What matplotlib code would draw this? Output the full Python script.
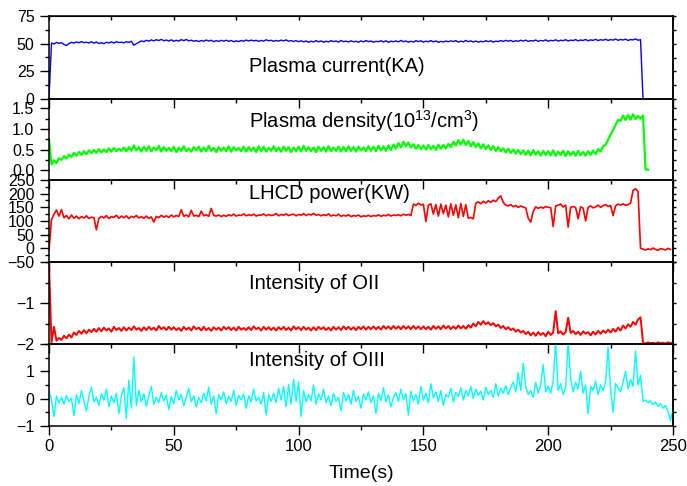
import numpy as np
import matplotlib
matplotlib.use("Agg")
import matplotlib.pyplot as plt
from matplotlib.ticker import MultipleLocator, FixedLocator, FormatStrFormatter

plt.rcParams['font.family'] = ['Liberation Sans', 'DejaVu Sans']
plt.rcParams['mathtext.fontset'] = 'custom'
plt.rcParams['mathtext.rm'] = 'Liberation Sans'
plt.rcParams['mathtext.default'] = 'regular'

nan = np.nan
time_s = np.arange(0, 251)  # one sample per second

plasma_current = [
    0.0, 50.6, 49.7, 51.1, 50.3, 50.9, 49.4, 48.3, 50.1, 51.2,
    50.5, 51.6, 50.8, 51.9, 50.9, 51.3, 50.6, 51.8, 50.4, 51.5,
    50.1, 51.0, 49.9, 51.3, 50.6, 51.7, 50.5, 51.9, 51.0, 51.4,
    50.7, 51.8, 51.1, 52.2, 48.6, 50.0, 51.2, 52.5, 51.8, 53.0,
    52.3, 53.4, 52.5, 53.6, 52.8, 53.9, 52.6, 53.3, 52.4, 53.5,
    52.1, 53.1, 52.3, 53.7, 52.7, 53.8, 52.5, 53.2, 52.2, 52.9,
    51.9, 52.8, 52.2, 53.3, 52.4, 53.1, 51.8, 52.8, 52.0, 53.0,
    52.3, 53.1, 52.1, 52.9, 51.7, 52.6, 51.9, 52.8, 52.2, 53.3,
    52.4, 53.2, 52.5, 53.0, 52.1, 52.9, 52.3, 53.5, 52.6, 53.1,
    52.1, 52.9, 52.3, 53.2, 52.5, 53.4, 52.2, 52.8, 52.0, 52.7,
    51.8, 52.6, 51.6, 52.4, 51.2, 52.3, 51.5, 52.8, 51.7, 52.5,
    51.3, 52.2, 51.6, 52.7, 51.9, 52.4, 51.4, 52.9, 51.8, 52.3,
    51.5, 52.6, 51.7, 52.2, 51.3, 52.5, 51.6, 52.8, 51.9, 52.4,
    51.4, 52.1, 51.8, 52.7, 51.5, 52.6, 51.2, 52.3, 51.7, 52.5,
    51.6, 52.9, 51.8, 52.4, 51.3, 52.2, 51.5, 52.7, 51.9, 52.6,
    51.4, 52.3, 51.7, 52.8, 51.6, 52.5, 51.2, 52.1, 51.5, 52.4,
    51.7, 52.6, 51.9, 52.8, 51.4, 52.3, 51.6, 52.9, 51.8, 52.5,
    51.5, 52.4, 51.3, 52.2, 51.6, 52.7, 51.8, 52.6, 51.4, 52.3,
    51.9, 52.8, 52.0, 53.0, 52.2, 52.9, 51.8, 52.7, 52.1, 53.1,
    52.3, 53.2, 52.0, 52.8, 52.4, 53.3, 52.1, 52.9, 52.5, 53.4,
    52.2, 53.0, 52.6, 53.5, 52.3, 53.1, 52.7, 53.6, 52.4, 53.2,
    52.8, 53.7, 52.5, 53.3, 52.9, 53.8, 52.6, 53.4, 53.0, 53.9,
    52.8, 53.6, 53.1, 54.0, 52.9, 53.7, 53.2, 54.2, 53.0, 53.8,
    53.3, 54.1, 52.9, 53.7, 53.4, 54.3, 53.1, 53.6,
    0.0,
]

plasma_density = [
    0.76, 0.14, 0.24, 0.17, 0.29, 0.25, 0.34, 0.28, 0.38, 0.32,
    0.42, 0.35, 0.44, 0.37, 0.46, 0.39, 0.48, 0.41, 0.49, 0.42,
    0.51, 0.43, 0.50, 0.44, 0.53, 0.45, 0.54, 0.46, 0.52, 0.47,
    0.55, 0.46, 0.56, 0.47, 0.60, 0.48, 0.56, 0.45, 0.57, 0.47,
    0.58, 0.46, 0.55, 0.48, 0.59, 0.45, 0.56, 0.47, 0.54, 0.46,
    0.57, 0.44, 0.55, 0.47, 0.58, 0.46, 0.53, 0.45, 0.56, 0.48,
    0.57, 0.45, 0.55, 0.46, 0.59, 0.47, 0.54, 0.44, 0.56, 0.47,
    0.55, 0.46, 0.58, 0.45, 0.56, 0.48, 0.54, 0.46, 0.57, 0.45,
    0.56, 0.47, 0.55, 0.44, 0.58, 0.46, 0.57, 0.45, 0.54, 0.47,
    0.58, 0.46, 0.55, 0.45, 0.57, 0.47, 0.56, 0.44, 0.55, 0.46,
    0.57, 0.45, 0.59, 0.47, 0.56, 0.46, 0.55, 0.44, 0.57, 0.47,
    0.56, 0.45, 0.58, 0.46, 0.55, 0.47, 0.57, 0.45, 0.56, 0.46,
    0.58, 0.47, 0.56, 0.45, 0.57, 0.48, 0.55, 0.46, 0.58, 0.47,
    0.57, 0.46, 0.59, 0.48, 0.58, 0.47, 0.60, 0.49, 0.62, 0.52,
    0.66, 0.55, 0.69, 0.58, 0.67, 0.55, 0.63, 0.52, 0.61, 0.51,
    0.60, 0.50, 0.61, 0.51, 0.59, 0.49, 0.62, 0.52, 0.61, 0.53,
    0.64, 0.56, 0.69, 0.60, 0.73, 0.62, 0.74, 0.61, 0.71, 0.58,
    0.68, 0.56, 0.65, 0.53, 0.63, 0.51, 0.60, 0.49, 0.58, 0.47,
    0.56, 0.46, 0.53, 0.43, 0.52, 0.42, 0.50, 0.40, 0.49, 0.39,
    0.48, 0.37, 0.47, 0.36, 0.49, 0.38, 0.46, 0.35, 0.47, 0.37,
    0.46, 0.36, 0.48, 0.35, 0.45, 0.37, 0.47, 0.34, 0.46, 0.36,
    0.45, 0.35, 0.47, 0.36, 0.44, 0.35, 0.46, 0.37, 0.48, 0.39,
    0.51, 0.45, 0.58, 0.62, 0.74, 0.86, 0.98, 1.10, 1.22, 1.20,
    1.33, 1.22, 1.34, 1.23, 1.36, 1.24, 1.32, 1.25, 1.33, 0.02,
    0.01,
]

lhcd_power = [
    -8, 105, 125, 140, 118, 142, 112, 120, 108, 122,
    110, 118, 108, 116, 111, 119, 109, 114, 112, 68,
    110, 117, 111, 120, 109, 116, 113, 121, 110, 118,
    112, 119, 109, 117, 113, 120, 111, 116, 110, 118,
    109, 115, 96, 117, 112, 121, 114, 119, 113, 122,
    115, 120, 116, 141, 117, 122, 115, 139, 118, 121,
    116, 136, 119, 123, 117, 146, 120, 118, 122, 116,
    121, 117, 123, 119, 125, 118, 122, 120, 126, 119,
    123, 120, 125, 118, 122, 121, 126, 119, 124, 120,
    122, 127, 119, 124, 121, 126, 120, 123, 125, 119,
    124, 121, 127, 120, 125, 122, 128, 121, 124, 119,
    123, 120, 126, 118, 122, 119, 125, 117, 121, 118,
    123, 116, 120, 118, 122, 115, 119, 117, 121, 116,
    120, 118, 123, 117, 121, 119, 124, 118, 122, 120,
    123, 119, 125, 121, 124, 120, 162, 157, 165, 159,
    161, 98, 158, 163, 125, 160, 118, 162, 127, 158,
    115, 163, 121, 159, 112, 164, 117, 160, 110, 113,
    108, 165, 170, 163, 172, 166, 174, 168, 176, 171,
    183, 192, 168, 158, 155, 160, 152, 157, 150, 155,
    151, 148, 110, 96, 135, 152, 146, 151, 147, 153,
    150, 149, 80, 155, 158, 162, 151, 158, 78, 150,
    153, 149, 108, 152, 147, 100, 150, 155, 148, 152,
    158, 150, 156, 160, 153, 157, 120, 155, 162, 158,
    163, 157, 160, 165, 212, 218, 208, 0, -3, -6,
    -2, -5, 1, -4, -7, -1, -3, -6, 0, -4,
]

intensity_oii = [
    -0.02, -1.96, -1.58, -1.92, -1.85, -1.90, -1.80, -1.86, -1.77, -1.84,
    -1.72, -1.78, -1.68, -1.75, -1.66, -1.74, -1.65, -1.71, -1.63, -1.70,
    -1.61, -1.69, -1.60, -1.67, -1.62, -1.70, -1.58, -1.66, -1.61, -1.68,
    -1.59, -1.67, -1.60, -1.66, -1.57, -1.65, -1.61, -1.68, -1.59, -1.66,
    -1.58, -1.65, -1.60, -1.67, -1.56, -1.64, -1.59, -1.66, -1.58, -1.65,
    -1.59, -1.66, -1.61, -1.68, -1.58, -1.65, -1.60, -1.67, -1.57, -1.64,
    -1.60, -1.67, -1.58, -1.66, -1.61, -1.68, -1.59, -1.65, -1.60, -1.67,
    -1.58, -1.64, -1.59, -1.66, -1.60, -1.67, -1.58, -1.65, -1.61, -1.66,
    -1.59, -1.66, -1.57, -1.64, -1.60, -1.67, -1.58, -1.65, -1.59, -1.66,
    -1.60, -1.67, -1.59, -1.65, -1.58, -1.66, -1.60, -1.67, -1.57, -1.64,
    -1.59, -1.66, -1.58, -1.65, -1.60, -1.67, -1.59, -1.66, -1.58, -1.64,
    -1.59, -1.66, -1.60, -1.67, -1.58, -1.65, -1.59, -1.66, -1.57, -1.64,
    -1.58, -1.65, -1.59, -1.66, -1.58, -1.64, -1.57, -1.65, -1.58, -1.64,
    -1.57, -1.64, -1.58, -1.65, -1.56, -1.63, -1.57, -1.64, -1.56, -1.63,
    -1.57, -1.64, -1.56, -1.63, -1.57, -1.64, -1.56, -1.63, -1.57, -1.64,
    -1.57, -1.64, -1.58, -1.65, -1.56, -1.63, -1.57, -1.64, -1.55, -1.62,
    -1.56, -1.64, -1.57, -1.63, -1.55, -1.62, -1.56, -1.63, -1.54, -1.60,
    -1.50, -1.57, -1.46, -1.53, -1.44, -1.52, -1.47, -1.54, -1.49, -1.57,
    -1.53, -1.61, -1.56, -1.64, -1.59, -1.66, -1.62, -1.70, -1.65, -1.72,
    -1.68, -1.76, -1.70, -1.79, -1.72, -1.80, -1.71, -1.78, -1.73, -1.81,
    -1.70, -1.78, -1.72, -1.20, -1.74, -1.69, -1.77, -1.71, -1.36, -1.73,
    -1.68, -1.76, -1.70, -1.78, -1.69, -1.75, -1.71, -1.79, -1.70, -1.77,
    -1.68, -1.75, -1.67, -1.73, -1.65, -1.72, -1.63, -1.70, -1.60, -1.67,
    -1.55, -1.62, -1.52, -1.58, -1.46, -1.53, -1.40, -1.35,
    -1.97, -1.99, -1.96, -1.98, -1.97, -1.99, -1.96, -1.98, -1.97, -1.99,
    -1.96, -1.98, -1.97,
]

intensity_oiii = [
    0.28, -0.05, -0.65, 0.10, -0.15, 0.05, -0.20, 0.12, -0.10, 0.02,
    -0.62, 0.15, -0.18, 0.30, -0.08, -0.45, 0.08, 0.42, -0.12, 0.05,
    -0.25, 0.18, -0.05, 0.35, -0.30, 0.10, -0.15, 0.20, -0.55, 0.12,
    0.40, -0.72, 0.68, -0.35, 1.52, -0.25, 0.30, -0.12, 0.18, -0.28,
    0.10, 0.45, -0.20, 0.05, -0.15, 0.22, -0.08, 0.12, -0.40, 0.08,
    -0.18, 0.30, -0.05, 0.15, -0.25, 0.05, 0.38, -0.12, 0.10, -0.30,
    0.05, -0.15, 0.20, -0.08, 0.42, -0.20, 0.10, -0.55, 0.15, -0.05,
    0.25, -0.18, 0.08, -0.10, 0.30, -0.25, 0.12, -0.05, 0.18, -0.35,
    0.10, -0.12, 0.35, -0.08, 0.05, -0.20, 0.22, -0.60, 0.15, -0.10,
    0.20, -0.15, 0.38, -0.05, 0.45, -0.30, 0.52, -0.20, 0.70, -0.10,
    0.62, -0.65, 0.30, -0.12, 0.15, -0.08, 0.50, -0.20, 0.18, -0.05,
    0.35, -0.15, 0.10, -0.25, 0.20, -0.10, 0.05, -0.45, 0.22, -0.08,
    0.15, -0.20, 0.30, -0.10, 0.08, -0.35, 0.18, -0.05, 0.25, -0.15,
    0.10, -0.55, 0.20, -0.08, 0.40, -0.12, 0.15, -0.30, 0.05, 0.22,
    -0.10, 0.35, -0.05, 0.18, -0.60, 0.28, -0.08, 0.15, -0.20, 0.45,
    -0.05, 0.20, -0.15, 0.55, 0.02, 0.25, -0.10, 0.30, -0.25, 0.15,
    0.05, 0.38, -0.12, 0.22, 0.08, 0.40, -0.05, 0.30, 0.10, 0.45,
    0.00, 0.35, 0.12, 0.28, -0.05, 0.42, 0.15, 0.30, 0.05, 0.55,
    0.10, 0.38, 0.20, 0.48, 0.15, 0.40, 0.62, 0.25, 0.95, 0.30,
    1.30, 0.45, 0.15, 0.30, 0.05, 0.60, 0.20, 0.50, 1.25, 0.25,
    0.45, 0.20, 0.65, 2.10, 0.30, 0.55, 0.15, 0.40, 2.10, 0.70,
    0.25, 0.60, 0.35, 1.00, 0.20, 0.50, -0.55, 0.45, 0.30, 0.65,
    0.15, 0.50, 0.30, 0.60, 1.88, 0.35, -0.50, 0.55, 0.40, 0.25,
    0.60, 1.00, 0.35, 0.70, 0.45, 1.75, 0.50, 0.85, -0.10, -0.05,
    -0.15, -0.08, -0.22, -0.12, -0.28, -0.18, -0.35, -0.25, -0.45, -0.80,
    -0.40,
]

titles = [
    "Plasma current(KA)",
    "Plasma density(10$^{13}$/cm$^{3}$)",
    "LHCD power(KW)",
    "Intensity of OII",
    "Intensity of OIII",
]
series = [plasma_current, plasma_density, lhcd_power, intensity_oii, intensity_oiii]
colors = ["#0000ff", "#00ff00", "#ff0000", "#ff0000", "#00ffff"]
ylims = [(0, 75), (-0.24, 1.73), (-50, 250), (-2, 0), (-1, 2)]
yticks = [[0, 25, 50, 75], [0.0, 0.5, 1.0, 1.5], [-50, 0, 50, 100, 150, 200, 250],
          [-2, -1], [-1, 0, 1]]
yminor = [12.5, 0.25, 25, 0.5, 0.5]
title_y = [0.39, 0.73, 0.84, 0.74, 0.80]
line_w = [1.0, 1.6, 1.2, 1.4, 1.0]


def pad(values):
    # the traces stop when the shot ends; fill the rest of the time base with NaN
    v = np.array(values, dtype=float)
    return np.concatenate([v, np.full(len(time_s) - len(v), nan)])


fig = plt.figure(figsize=(6.87, 4.86), dpi=100)
left, width = 0.0713, 0.9083
tops = [16, 99, 180, 262, 344, 426]  # panel edges in pixels from the top
H = 486.0

axes = []
for i in range(5):
    bottom = 1 - tops[i + 1] / H
    height = (tops[i + 1] - tops[i]) / H
    ax = fig.add_axes([left, bottom, width, height])
    ax.patch.set_visible(False)
    axes.append(ax)

    ax.plot(time_s, pad(series[i]), color=colors[i], lw=line_w[i])
    ax.set_xlim(0, 250)
    ax.set_ylim(*ylims[i])
    ax.text(80, title_y[i], titles[i], transform=ax.get_xaxis_transform(),
            ha='left', va='center', fontsize=14.5)

    ax.xaxis.set_major_locator(MultipleLocator(50))
    ax.xaxis.set_minor_locator(MultipleLocator(25))
    ax.yaxis.set_major_locator(FixedLocator(yticks[i]))
    ax.yaxis.set_minor_locator(MultipleLocator(yminor[i]))
    if i == 1:
        ax.yaxis.set_major_formatter(FormatStrFormatter('%.1f'))

    ax.tick_params(axis='both', which='major', direction='out', length=6.5,
                   width=1.0, labelsize=12, pad=3)
    ax.tick_params(axis='both', which='minor', direction='out', length=3.2, width=1.0)
    ax.tick_params(axis='y', labelsize=11.5, pad=4)
    if i < 4:
        ax.tick_params(axis='x', labelbottom=False)

    for sp in ax.spines.values():
        sp.set_linewidth(1.1)

    # short outward ticks on the right edge
    sec = ax.secondary_yaxis('right')
    sec.yaxis.set_major_locator(MultipleLocator(yminor[i]))
    sec.tick_params(direction='out', length=2.5, width=1.0, labelright=False)
    sec.spines['right'].set_linewidth(1.1)

    if i == 0:
        top = ax.secondary_xaxis('top')
        top.xaxis.set_major_locator(MultipleLocator(25))
        top.tick_params(direction='in', length=3, width=1.0, labeltop=False)

axes[-1].set_xlabel("Time(s)", fontsize=14, labelpad=8)

fig.savefig("out.png", dpi=100)
